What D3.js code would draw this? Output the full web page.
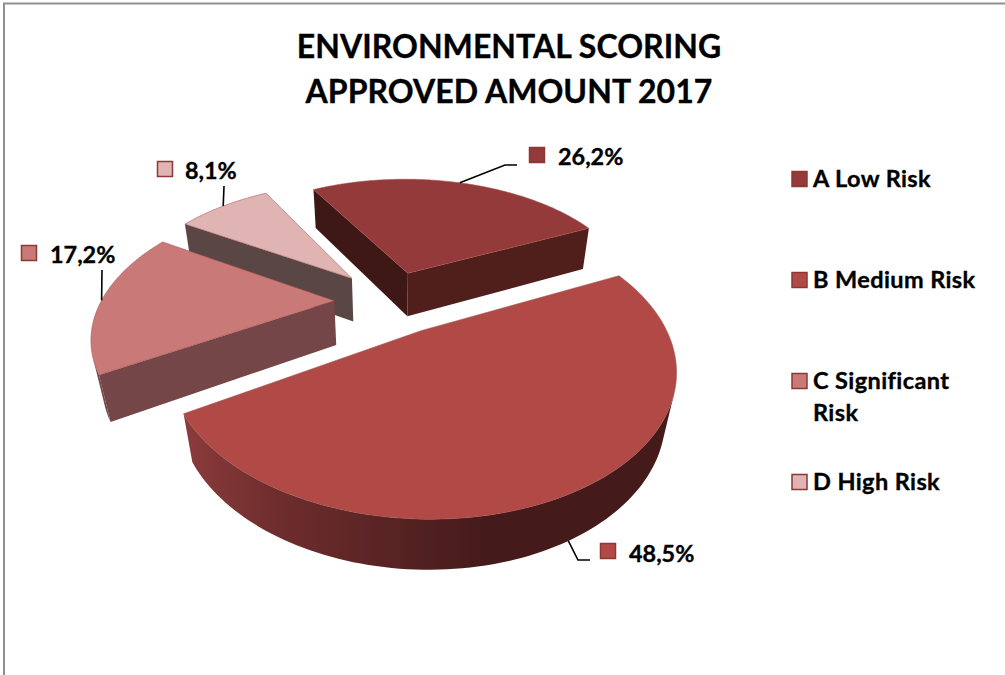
<!DOCTYPE html>
<html><head><meta charset="utf-8"><title>Environmental scoring</title>
<script src="https://cdn.jsdelivr.net/npm/d3@7"></script>
<style>html,body{margin:0;background:#fff}svg{display:block;font-family:Lato,sans-serif;font-weight:700}text{stroke:#000;stroke-width:.35px}</style></head>
<body><svg id="chart" width="1005" height="675"></svg>
<script>
// Chart content
const titleLines = ["ENVIRONMENTAL SCORING", "APPROVED AMOUNT 2017"];
const categories = ["A Low Risk", "B Medium Risk", "C Significant Risk", "D High Risk"];
const shares = [26.2, 48.5, 17.2, 8.1];
const explosion = [0.239, 0.251, 0.248, 0.257];

// Slice paint
const topColors = ["#943a3a", "#b14a46", "#c97a78", "#dfb4b2"];
const frontWallColors = ["#501e1b", "#451a1a", "#754647", "#5a4645"];
const leftWallColors = ["#3e1814", "#451a1a", "#754647", "#5a4645"];

// Camera for the tilted pie: unit radius disc, looking down
const cam = { ox: 392, oy: 300.9, f: 832, dist: 3.572, elev: 33.21 * Math.PI / 180, depth: 0.235, start: -29.69 * Math.PI / 180 };
const sinE = Math.sin(cam.elev), cosE = Math.cos(cam.elev);
function project(x, y, z) {
  const d = cam.dist + y * cosE - z * sinE;
  return [cam.ox + cam.f * x / d, cam.oy - cam.f * (y * sinE + z * cosE) / d];
}

const svg = d3.select("#chart");
const line = d3.line();
const closed = pts => line(pts) + "Z";
const fmt = v => d3.format(".1f")(v).replace(".", ",") + "%";

const defs = svg.append("defs");
const wallGrad = defs.append("linearGradient").attr("id", "wallB")
  .attr("gradientUnits", "userSpaceOnUse").attr("x1", 184).attr("x2", 490).attr("y1", 0).attr("y2", 0);
[[0, "#8b3b3b"], [0.3, "#6f2d2d"], [0.7, "#562222"], [1, "#451a1a"]]
  .forEach(([o, c]) => wallGrad.append("stop").attr("offset", o).attr("stop-color", c));

// Chart frame, open towards the right and bottom
svg.append("path").attr("d", "M4,675V3.5H1005").attr("fill", "none").attr("stroke", "#8f8f8f").attr("stroke-width", 2);

// Title
svg.append("g").selectAll("text").data(titleLines).join("text")
  .attr("x", 509).attr("y", (d, i) => 58 + i * 45).attr("text-anchor", "middle")
  .attr("font-size", 32).attr("letter-spacing", 0.05).attr("fill", "#000").text(d => d);

// Slices
const arcs = d3.pie().sort(null).startAngle(cam.start).endAngle(cam.start + 2 * Math.PI)(shares);
const rim = (i, a, r, z) => {
  const m = (arcs[i].startAngle + arcs[i].endAngle) / 2, t = explosion[i];
  return project(t * Math.sin(m) + r * Math.sin(a), t * Math.cos(m) + r * Math.cos(a), z);
};
const faces = (a, b, c) => (b[0] - a[0]) * (c[1] - b[1]) - (b[1] - a[1]) * (c[0] - b[0]) < 0;

function drawSlice(i) {
  const g = svg.append("g"), arc = arcs[i], h = -cam.depth;
  const steps = d3.range(0, 121).map(k => arc.startAngle + (arc.endAngle - arc.startAngle) * k / 120);

  // Straight walls, then the curved outer wall where it turns towards the viewer
  [[arc.endAngle, false], [arc.startAngle, true]].forEach(([a, leading]) => {
    const p = leading ? [rim(i, 0, 0, 0), rim(i, a, 1, 0)] : [rim(i, a, 1, 0), rim(i, 0, 0, 0)];
    const low = leading ? [rim(i, 0, 0, h), rim(i, a, 1, h)] : [rim(i, a, 1, h), rim(i, 0, 0, h)];
    if (faces(p[0], p[1], low[1])) {
      g.append("path").attr("d", closed([p[0], p[1], low[1], low[0]]))
        .attr("fill", leading ? leftWallColors[i] : frontWallColors[i]);
    }
  });
  let run = [];
  const flush = () => {
    if (run.length > 1) {
      const pts = run.map(a => rim(i, a, 1, 0)).concat(run.slice().reverse().map(a => rim(i, a, 1, h)));
      g.append("path").attr("d", closed(pts)).attr("fill", i === 1 ? "url(#wallB)" : frontWallColors[i]);
    }
    run = [];
  };
  steps.slice(1).forEach((a, k) => {
    const p = rim(i, steps[k], 1, 0), q = rim(i, a, 1, 0), r = rim(i, a, 1, h);
    if (faces(p, q, r)) { if (!run.length) run.push(steps[k]); run.push(a); } else flush();
  });
  flush();

  // Top face
  const top = [rim(i, 0, 0, 0)].concat(steps.map(a => rim(i, a, 1, 0)));
  g.append("path").attr("d", closed(top)).attr("fill", topColors[i])
    .attr("stroke", "#a0504e").attr("stroke-opacity", 0.55).attr("stroke-width", 1).attr("stroke-linejoin", "round");
}
// Painted from the back of the scene to the front
[0, 3, 2, 1].forEach(drawSlice);

// Value labels: leader, swatch, text
const labelSpots = [
  { via: [[505, 165], [517, 165]], box: [529, 147], text: [558, 165], z: 0 },
  { via: [[578, 560], [590, 560]], box: [600, 543], text: [629, 562], z: -cam.depth },
  { via: [[102, 270]], box: [21, 245], text: [50, 263], z: 0 },
  { via: [[224, 186]], box: [157, 161], text: [185, 179], z: 0 }
];
arcs.forEach((arc, i) => {
  const s = labelSpots[i], m = (arc.startAngle + arc.endAngle) / 2;
  svg.append("path").attr("d", line([rim(i, m, 1, s.z), ...s.via]))
    .attr("fill", "none").attr("stroke", "#000").attr("stroke-width", 1.6);
  svg.append("rect").attr("x", s.box[0] + 0.5).attr("y", s.box[1] + 0.5).attr("width", 15).attr("height", 15)
    .attr("fill", topColors[i]).attr("stroke", "#8c3836").attr("stroke-width", 1.5);
  svg.append("text").attr("x", s.text[0]).attr("y", s.text[1]).attr("font-size", 23.4).attr("fill", "#000").text(fmt(shares[i]));
});

// Legend
const legendRows = [[179], [280], [381, 413], [482]];
const legendLines = [[categories[0]], [categories[1]], ["C Significant", "Risk"], [categories[3]]];
legendRows.forEach((ys, i) => {
  svg.append("rect").attr("x", 792).attr("y", ys[0] - 7.5).attr("width", 15).attr("height", 15)
    .attr("fill", topColors[i]).attr("stroke", "#8c3836").attr("stroke-width", 1.5);
  ys.forEach((y, k) => svg.append("text").attr("x", 813).attr("y", y + 8).attr("font-size", 23.5).attr("letter-spacing", 0.4).attr("fill", "#000").text(legendLines[i][k]));
});
</script></body></html>
